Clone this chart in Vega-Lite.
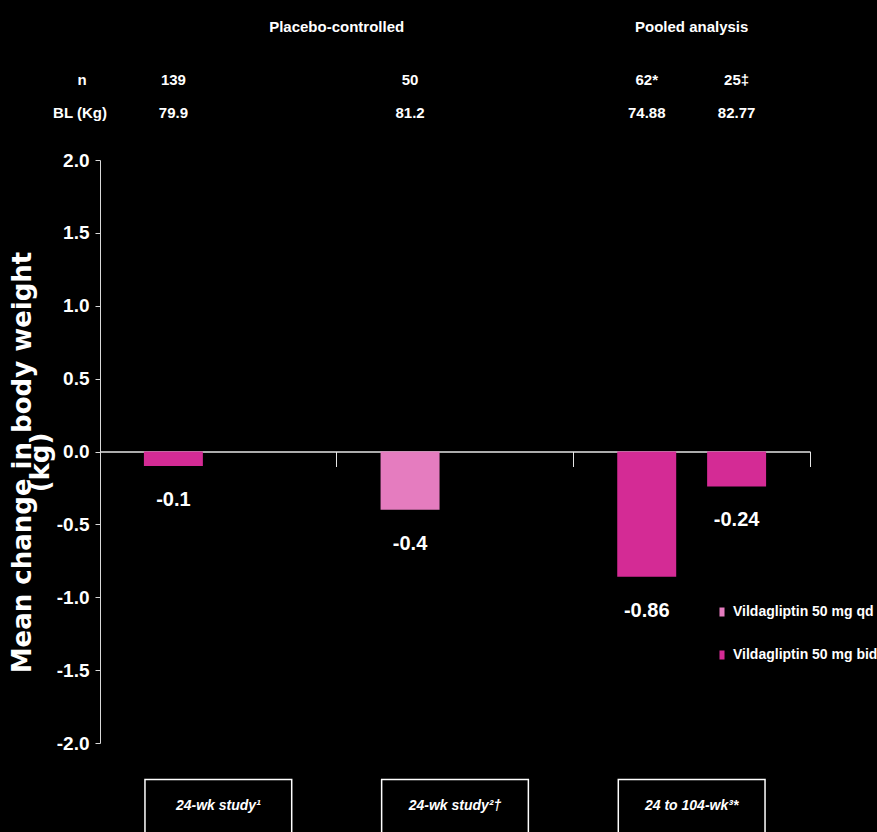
{
  "$schema": "https://vega.github.io/schema/vega-lite/v6.json",
  "width": 710,
  "height": 583,
  "autosize": "none",
  "padding": {"left": 100, "top": 160, "right": 67, "bottom": 89},
  "background": "#000000",
  "config": {
    "view": {"stroke": null},
    "font": "Liberation Sans, Arial, sans-serif",
    "text": {"color": "#ffffff", "fontWeight": "bold"},
    "locale": {
      "number": {"decimal": ".", "thousands": ",", "grouping": [3], "currency": ["$", ""], "minus": "-"}
    }
  },
  "data": {
    "values": [
      {"study": "24-wk study¹", "slot": "a", "treatment": "Vildagliptin 50 mg bid", "change": -0.1, "n": "139", "bl": "79.9"},
      {"study": "24-wk study²†", "slot": "a", "treatment": "Vildagliptin 50 mg qd", "change": -0.4, "n": "50", "bl": "81.2"},
      {"study": "24 to 104-wk³*", "slot": "a", "treatment": "Vildagliptin 50 mg bid", "change": -0.86, "n": "62*", "bl": "74.88"},
      {"study": "24 to 104-wk³*", "slot": "b", "treatment": "Vildagliptin 50 mg bid", "change": -0.24, "n": "25‡", "bl": "82.77"}
    ]
  },
  "encoding": {
    "x": {
      "field": "study",
      "type": "nominal",
      "sort": null,
      "scale": {"paddingInner": 0, "paddingOuter": 0},
      "axis": {
        "orient": "bottom",
        "offset": -291.5,
        "bandPosition": 1,
        "labels": false,
        "title": null,
        "domainColor": "#e6e6e6",
        "domainWidth": 1.5,
        "tickColor": "#e6e6e6",
        "tickSize": 15,
        "tickWidth": 1
      }
    }
  },
  "layer": [
    {
      "mark": {"type": "bar"},
      "encoding": {
        "xOffset": {"field": "slot", "type": "nominal", "scale": {"domain": ["a", "b"], "paddingInner": 0.344, "paddingOuter": 0.4885}},
        "y": {
          "field": "change",
          "type": "quantitative",
          "scale": {"domain": [-2, 2], "nice": false, "zero": true},
          "axis": {
            "values": [-2, -1.5, -1, -0.5, 0, 0.5, 1, 1.5, 2],
            "format": ".1f",
            "grid": false,
            "domainColor": "#d9d9d9",
            "tickColor": "#d9d9d9",
            "tickSize": 5,
            "labelColor": "#ffffff",
            "labelFontSize": 19,
            "labelFontWeight": "bold",
            "labelPadding": 6,
            "title": ["Mean change in body weight", "(kg)"],
            "titleFont": "DejaVu Sans",
            "titleFontSize": 26,
            "titleFontWeight": "bold",
            "titleColor": "#ffffff",
            "titleLineHeight": 18,
            "titleX": -65,
            "titleY": 302
          }
        },
        "color": {
          "field": "treatment",
          "type": "nominal",
          "scale": {"domain": ["Vildagliptin 50 mg qd", "Vildagliptin 50 mg bid"], "range": ["#E57CBF", "#D42B95"]},
          "legend": {
            "orient": "none",
            "legendX": 613,
            "legendY": 443,
            "title": null,
            "padding": 0,
            "symbolType": "M-0.28,-0.5H0.28V0.5H-0.28Z",
            "symbolSize": 324,
            "symbolStrokeWidth": 0,
            "labelColor": "#ffffff",
            "labelFontSize": 14,
            "labelFontWeight": "bold",
            "labelOffset": 2,
            "labelLimit": 300,
            "rowPadding": 27
          }
        }
      }
    },
    {
      "mark": {"type": "text", "baseline": "middle", "dy": 34, "fontSize": 20},
      "encoding": {
        "xOffset": {"field": "slot", "type": "nominal"},
        "y": {"field": "change", "type": "quantitative"},
        "text": {"field": "change", "type": "quantitative", "format": ".2~f"}
      }
    },
    {
      "mark": {"type": "text", "baseline": "middle", "fontSize": 15},
      "encoding": {
        "xOffset": {"field": "slot", "type": "nominal"},
        "y": {"datum": 2.549},
        "text": {"field": "n"}
      }
    },
    {
      "mark": {"type": "text", "baseline": "middle", "fontSize": 15},
      "encoding": {
        "xOffset": {"field": "slot", "type": "nominal"},
        "y": {"datum": 2.322},
        "text": {"field": "bl"}
      }
    },
    {
      "transform": [{"filter": "datum.slot === 'a'"}],
      "mark": {"type": "bar", "fill": "#000000", "stroke": "#ffffff", "strokeWidth": 1.5, "width": {"band": 0.62}},
      "encoding": {
        "y": {"datum": -2.25},
        "y2": {"datum": -2.8}
      }
    },
    {
      "transform": [{"filter": "datum.slot === 'a'"}],
      "mark": {"type": "text", "baseline": "middle", "fontSize": 14, "fontStyle": "italic"},
      "encoding": {
        "y": {"datum": -2.43},
        "text": {"field": "study"}
      }
    },
    {
      "data": {"values": [{"study": "24-wk study¹", "row": "n"}]},
      "mark": {"type": "text", "baseline": "middle", "fontSize": 15, "dx": -18},
      "encoding": {
        "x": {"field": "study", "type": "nominal", "bandPosition": 0},
        "y": {"datum": 2.549},
        "text": {"field": "row"}
      }
    },
    {
      "data": {"values": [{"study": "24-wk study¹", "row": "BL (Kg)"}]},
      "mark": {"type": "text", "baseline": "middle", "fontSize": 15, "dx": -20},
      "encoding": {
        "x": {"field": "study", "type": "nominal", "bandPosition": 0},
        "y": {"datum": 2.322},
        "text": {"field": "row"}
      }
    },
    {
      "data": {"values": [{"study": "24-wk study¹", "group": "Placebo-controlled"}]},
      "mark": {"type": "text", "baseline": "middle", "fontSize": 15},
      "encoding": {
        "x": {"field": "study", "type": "nominal", "bandPosition": 1},
        "y": {"datum": 2.912},
        "text": {"field": "group"}
      }
    },
    {
      "data": {"values": [{"study": "24 to 104-wk³*", "group": "Pooled analysis"}]},
      "mark": {"type": "text", "baseline": "middle", "fontSize": 15},
      "encoding": {
        "x": {"field": "study", "type": "nominal"},
        "y": {"datum": 2.912},
        "text": {"field": "group"}
      }
    }
  ]
}
